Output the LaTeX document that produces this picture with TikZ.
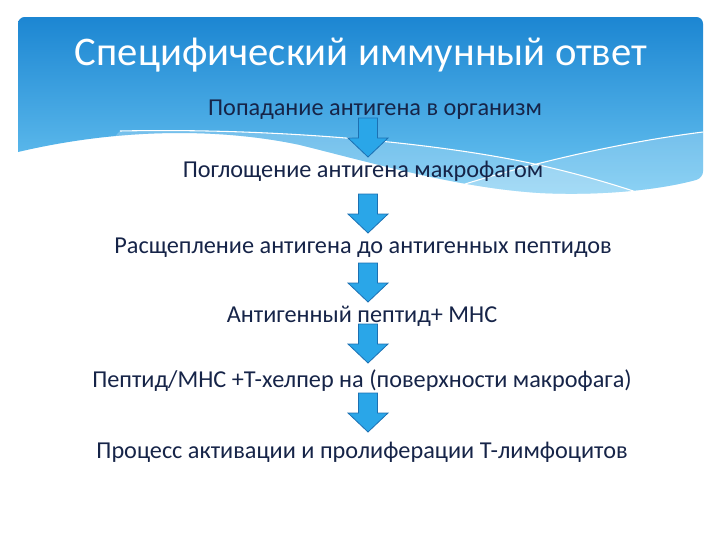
\documentclass[tikz,border=0pt]{standalone}
\usepackage{fontspec}
\setmainfont{Carlito}
\usetikzlibrary{calc}
\definecolor{bannertop}{RGB}{28,134,210}
\definecolor{bannerlow}{RGB}{108,198,242}
\definecolor{arrowblue}{RGB}{42,166,232}
\definecolor{arrowedge}{RGB}{28,112,178}
\definecolor{inktext}{RGB}{22,36,72}

\begin{document}
\begin{tikzpicture}[x=0.75pt,y=-0.75pt,
    stage/.style={text=inktext,font=\fontsize{18.2}{21}\selectfont,anchor=base,inner sep=0pt},
    flow/.style={fill=arrowblue,draw=arrowedge,line width=0.6pt,line join=miter}]
  \useasboundingbox (0,0) rectangle (720,540);
  % banner with the wave
  \def\banner{(703,178) .. controls (660,190) and (600,196) .. (540,193)
    .. controls (460,188) and (380,165) .. (300,145)
    .. controls (220,128) and (120,128) .. (18,152)
    [rounded corners=5pt] -- (18,17) -- (703,17) -- cycle}
  \shade[top color=bannertop,bottom color=bannerlow] \banner;
  \begin{scope}
    \clip \banner;
    \fill[white,opacity=0.22] (120,131) .. controls (260,128) and (420,140) .. (530,163)
      .. controls (580,174) and (620,186) .. (660,200) -- (720,260) -- (0,260) -- cycle;
    \fill[white,opacity=0.22] (440,192) .. controls (500,172) and (600,145) .. (703,132)
      -- (720,260) -- (440,260) -- cycle;
    \draw[white,line width=0.8pt] (120,131) .. controls (260,128) and (420,140) .. (530,163)
      .. controls (580,174) and (620,186) .. (660,200);
    \draw[white,line width=0.8pt] (440,192) .. controls (500,172) and (600,145) .. (703,132);
  \end{scope}
  \node[text=white,font=\fontsize{30.5}{36}\selectfont,anchor=base,inner sep=0pt] (title) at (361,65) {Специфический иммунный ответ};

  % the steps
  \node[stage] (t1) at (375,115) {Попадание антигена в организм};
  \node[stage] (t2) at (363,177) {Поглощение антигена макрофагом};
  \node[stage] (t3) at (363,253) {Расщепление антигена до антигенных пептидов};
  \node[stage] (t4) at (362,322) {Антигенный пептид+ МНС};
  \node[stage] (t5) at (362,387) {Пептид/МНС +Т-хелпер на (поверхности макрофага)};
  \node[stage] (t6) at (362,458) {Процесс активации и пролиферации Т-лимфоцитов};

  \coordinate (axis) at (368,0);
  \foreach \n/\gap in {2/20,3/20,4/20,5/24,6/26}
    \draw[flow] ($(axis |- t\n.base)+(0,-\gap)$) -- ++(-20,-19) -- ++(10.5,0) -- ++(0,-20)
      -- ++(19,0) -- ++(0,20) -- ++(10.5,0) -- cycle;
\end{tikzpicture}
\end{document}
